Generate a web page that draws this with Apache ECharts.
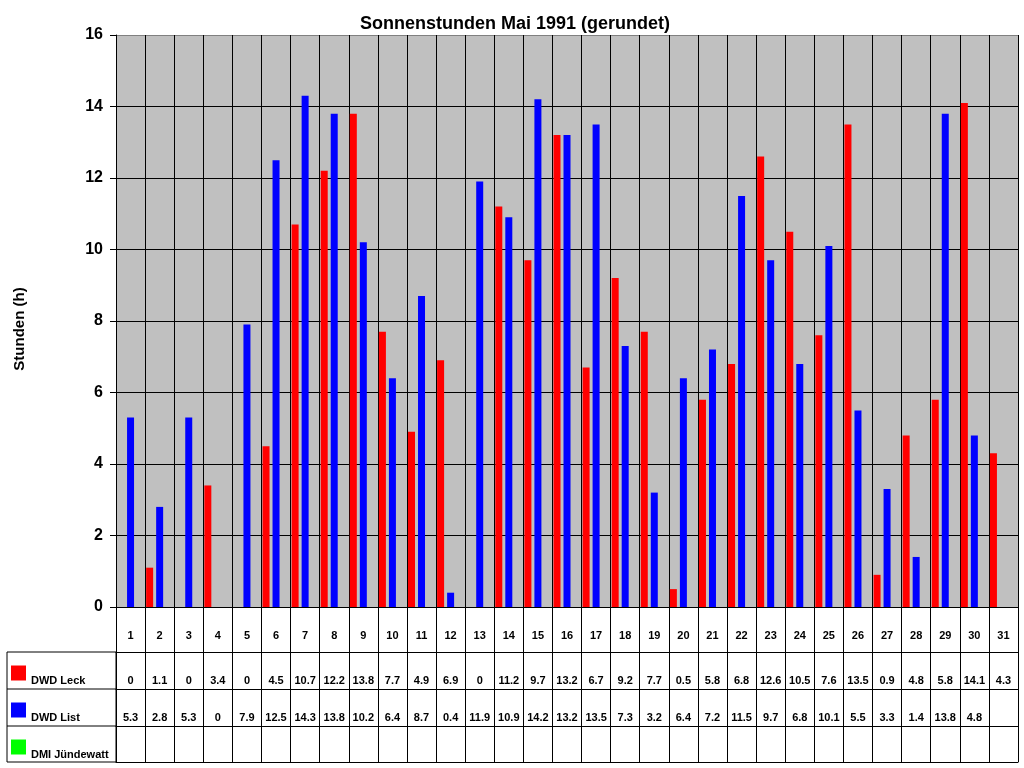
<!DOCTYPE html>
<html><head><meta charset="utf-8">
<script src="https://cdn.jsdelivr.net/npm/echarts@6/dist/echarts.min.js"></script>
<style>html,body{margin:0;padding:0;background:#fff}#c{width:1024px;height:768px}</style>
</head><body><div id="c"></div>
<script>
const days = ['1','2','3','4','5','6','7','8','9','10','11','12','13','14','15','16','17','18','19','20','21','22','23','24','25','26','27','28','29','30','31'];
const leck = [0,1.1,0,3.4,0,4.5,10.7,12.2,13.8,7.7,4.9,6.9,0,11.2,9.7,13.2,6.7,9.2,7.7,0.5,5.8,6.8,12.6,10.5,7.6,13.5,0.9,4.8,5.8,14.1,4.3];
const list = [5.3,2.8,5.3,0,7.9,12.5,14.3,13.8,10.2,6.4,8.7,0.4,11.9,10.9,14.2,13.2,13.5,7.3,3.2,6.4,7.2,11.5,9.7,6.8,10.1,5.5,3.3,1.4,13.8,4.8,null];
const juendewatt = [null,null,null,null,null,null,null,null,null,null,null,null,null,null,null,null,null,null,null,null,null,null,null,null,null,null,null,null,null,null,null];
const seriesNames = ['DWD Leck','DWD List','DMI Jündewatt'];
const yTicks = {min:0, max:16, interval:2};

const FONT = 'Arial, "Liberation Sans", sans-serif';
const fmt = arr => arr.map(v => v == null ? '' : String(v));

const tableAxis = (data, offset, showLabel) => ({
  type:'category', data:data, position:'bottom', offset:offset, gridIndex:0,
  axisLine:{show:true, lineStyle:{color:'#000', width:1}},
  axisTick:{show:false}, splitLine:{show:false},
  axisLabel:{show:showLabel, interval:0, margin:23, color:'#000', fontFamily:FONT, fontWeight:'bold', fontSize:11}
});

const chart = echarts.init(document.getElementById('c'), null, {renderer:'canvas'});
chart.setOption({
  animation:false,
  backgroundColor:'#fff',
  title:{text:'Sonnenstunden Mai 1991 (gerundet)', left:355, top:10,
    textStyle:{fontFamily:FONT, fontWeight:'bold', fontSize:18, color:'#000'}},
  legend:{data:seriesNames, orient:'vertical', left:11, top:658, padding:0, itemGap:7,
    itemWidth:15, itemHeight:15, icon:'rect', selectedMode:false,
    formatter: name => '\n' + name,
    textStyle:{fontFamily:FONT, fontWeight:'bold', fontSize:11, lineHeight:15, color:'#000'}},
  grid:{left:116, right:6, top:35, bottom:161, show:true, backgroundColor:'#C0C0C0', borderWidth:0},
  xAxis:[
    {type:'category', data:days, position:'bottom',
      axisLine:{show:true, lineStyle:{color:'#000', width:1}},
      axisTick:{show:true, interval:0, length:155, lineStyle:{color:'#000', width:1}},
      splitLine:{show:true, interval:0, lineStyle:{color:'#000', width:1}},
      axisLabel:{interval:0, margin:23, color:'#000', fontFamily:FONT, fontWeight:'bold', fontSize:11}},
    tableAxis(fmt(leck), 45, true),
    tableAxis(fmt(list), 82, true),
    tableAxis(fmt(juendewatt), 119, false),
    tableAxis(fmt(juendewatt), 155, false)
  ],
  yAxis:{type:'value', min:yTicks.min, max:yTicks.max, interval:yTicks.interval,
    name:'Stunden (h)', nameLocation:'middle', nameGap:89,
    nameTextStyle:{fontFamily:FONT, fontWeight:'bold', fontSize:15, color:'#000', padding:[0,16,0,0]},
    axisLine:{show:true, lineStyle:{color:'#000', width:1}},
    axisTick:{show:true, length:6, lineStyle:{color:'#000'}},
    splitLine:{show:true, lineStyle:{color:['#000','#000','#000','#000','#000','#000','#000','#000','#808080'], width:1}},
    axisLabel:{margin:13, color:'#000', fontFamily:FONT, fontWeight:'bold', fontSize:16}},
  series:[
    {name:seriesNames[0], type:'bar', data:leck, barWidth:7, barGap:'43%', itemStyle:{color:'#FF0000'}},
    {name:seriesNames[1], type:'bar', data:list, barWidth:7, barGap:'43%', itemStyle:{color:'#0000FF'}},
    {name:seriesNames[2], type:'bar', data:juendewatt, barWidth:7, barGap:'43%', itemStyle:{color:'#00FF00'}}
  ],
  graphic:[
    {type:'rect', shape:{x:7, y:652, width:109, height:110}, style:{fill:null, stroke:'#000', lineWidth:1}, silent:true},
    {type:'line', shape:{x1:7, y1:689, x2:116, y2:689}, style:{stroke:'#000', lineWidth:1}, silent:true},
    {type:'line', shape:{x1:7, y1:726, x2:116, y2:726}, style:{stroke:'#000', lineWidth:1}, silent:true}
  ]
});
</script></body></html>
